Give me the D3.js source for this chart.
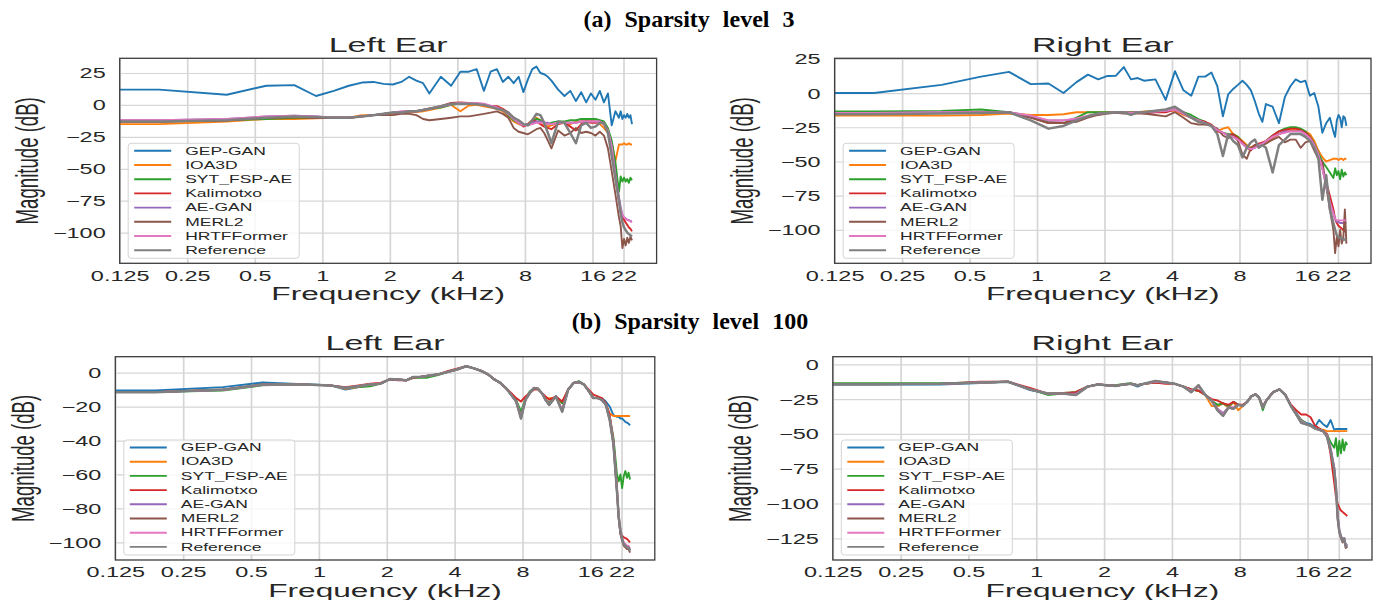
<!DOCTYPE html>
<html>
<head>
<meta charset="utf-8">
<script src="https://cdn.jsdelivr.net/npm/d3@7"></script>
<style>
    body { margin: 0; background: #fff; }
    svg text { font-family: "Liberation Sans", Arial, sans-serif; fill: #262626; }
    svg text.suptitle { font-family: "Liberation Serif", "Times New Roman", serif; font-weight: bold; fill: #000; }
</style>
</head>
<body>
<svg id="chart" width="1377" height="600"></svg>
<script>
"use strict";

// the source figure was widened after export, so its text is wider than tall
var STRETCH = 1.7;

var freqs = [0.125, 0.1875, 0.375, 0.5625, 0.75, 0.9375, 1.125, 1.3125, 1.5, 1.6875,
    1.875, 2.0625, 2.25, 2.4375, 2.625, 2.8125, 3.0, 3.375, 3.75, 4.125,
    4.5, 4.875, 5.25, 5.625, 6.0, 6.375, 6.75, 7.125, 7.5, 7.875,
    8.25, 8.625, 9.0, 9.375, 9.75, 10.125, 10.5, 11.25, 12.0, 12.75,
    13.5, 14.25, 15.0, 15.75, 16.5, 17.25, 18.0, 18.75, 19.5, 20.25,
    21.0, 21.375, 21.75, 22.125, 22.5, 22.875, 23.25, 23.625, 24.0];

var seriesNames = ["GEP-GAN", "IOA3D", "SYT_FSP-AE", "Kalimotxo", "AE-GAN", "MERL2", "HRTFFormer", "Reference"];
var seriesColors = ["#1f77b4", "#ff7f0e", "#2ca02c", "#d62728", "#9467bd", "#8c564b", "#e377c2", "#7f7f7f"];

var xTickValues = [0.125, 0.25, 0.5, 1, 2, 4, 8, 16, 22];
var xTickLabels = ["0.125", "0.25", "0.5", "1", "2", "4", "8", "16", "22"];
var yTicksA = [25, 0, -25, -50, -75, -100];
var yTicksBLeft = [0, -20, -40, -60, -80, -100];
var yTicksBRight = [0, -25, -50, -75, -100, -125];

// (a) sparsity level 3, left ear
var aLeftGep = [12, 12, 8, 15, 15.5, 7, 11, 15, 17.5, 18,
    16.5, 16, 18, 22, 19, 17, 9, 22, 15, 26,
    26, 28, 11, 26, 28, 18, 22, 17, 22, 10,
    20, 28, 30, 25, 24, 22, 19, 12, 7, 11,
    3, 10, 2, 9, 4, 11, 2, 9, -16, -5,
    -10, -5, -11, -8, -10, -7, -10, -8, -15];
var aLeftIoa = [-15, -15, -13, -11, -11, -10.5, -10, -10, -8, -8,
    -8, -7, -6, -6, -5.5, -5, -4, -2, 0, -5,
    -0.5, 0, -1, -2, -3, -5, -9, -13, -15, -16,
    -15, -12, -10, -12, -15, -17, -16, -14, -14, -15,
    -13, -13, -12, -12, -13, -15, -18, -22, -30, -44,
    -31, -31, -31, -30, -31, -31, -30, -31, -31];
var aLeftSyt = [-13, -13, -12, -11, -10, -10, -10, -10, -9, -8,
    -7, -6, -6, -5, -5, -4, -3, -2, 0, 1,
    1, 1, 0, -1, -2, -4, -8, -12, -14, -16,
    -15, -13, -11, -12, -14, -15, -14, -13, -13, -12,
    -12, -11, -11, -11, -11, -12, -13, -18, -28, -45,
    -68, -56, -60, -57, -60, -58, -61, -57, -59];
var aLeftKal = [-13, -13, -12, -10, -9.5, -10, -10, -10, -9, -8,
    -7, -6, -6, -5, -5, -4, -3, -1, 1.5, 2,
    1.5, 1, 0, -1, -1, -3, -6, -10, -14, -17,
    -15, -12, -13, -15, -17, -18, -19, -15, -14, -17,
    -20, -15, -13, -14, -14, -13, -15, -21, -35, -55,
    -75, -84, -88, -90, -92, -94, -96, -97, -99];
var aLeftAeg = [-12, -12, -11, -9, -8.5, -9, -10, -10, -9, -8,
    -7, -6, -5.5, -5, -5, -4, -3, -1.5, 0.5, 1.5,
    1.5, 1, 0.5, -1, -2, -4, -7, -11, -14, -16,
    -15, -14, -13, -13, -14, -14, -15, -14, -14, -14,
    -14, -13, -13, -13, -13, -13, -15, -20, -32, -55,
    -72, -80, -86, -88, -89, -90, -90, -91, -91];
var aLeftMerl = [-13, -13, -12, -10, -9, -10, -10, -10, -9, -8,
    -8, -8, -7, -7, -8, -11, -12, -11, -10, -9,
    -9, -8, -7, -6, -5, -7, -10, -18, -21, -22,
    -23, -21, -19, -18, -22, -28, -34, -20, -24, -22,
    -18, -22, -21, -22, -24, -21, -24, -34, -52, -70,
    -88, -95, -112, -105, -110, -104, -108, -103, -106];
var aLeftHrtf = [-12, -12, -11, -9, -8.5, -9, -10, -10, -9, -8,
    -7, -6, -5, -5, -5, -4, -3, -1, 0.5, 1.5,
    1.5, 1.5, 1, -0.5, -2, -4, -7, -11, -14, -16,
    -16, -15, -14, -14, -14, -15, -15, -14, -14, -14,
    -14, -13, -13, -13, -13, -13, -15, -20, -33, -56,
    -75, -82, -86, -88, -89, -90, -90.5, -91, -92];
var aLeftRef = [-13, -13, -12, -10, -9, -9.5, -10, -10, -9, -8,
    -7, -6, -6, -5, -5, -4, -3, -1, 1, 1,
    1, 0.5, 0, -1.5, -3, -4, -6, -10, -12, -15,
    -16, -12, -7, -8, -14, -22, -30, -13, -14, -22,
    -30, -16, -14, -18, -17, -14, -14, -22, -40, -58,
    -75, -85, -92, -96, -98, -100, -101, -102, -103];

// (a) sparsity level 3, right ear
var aRightGep = [0, 0, 6, 12, 15.5, 6.5, 7, 0, 8, 13.5,
    10, 12.5, 12.7, 19, 10, 11, 9, 10, -5, 16,
    2, -2, 12, 12, 15, 5, -17, -1, 3, 6,
    9, 6, 2, -6, -15, -21, -8, -10, -22, -3,
    5, 10, 8, 9, -2, 0, -10, -29, -22, -18,
    -28, -32, -20, -16, -18, -25, -17, -18, -24];
var aRightIoa = [-16.5, -16.5, -16.5, -16, -15, -16, -16, -15.5, -14, -14,
    -14, -14, -14, -14.5, -14, -14, -13.5, -13, -13, -13,
    -16, -18, -20, -22, -24, -28, -26, -25, -30, -32,
    -35, -38, -40, -38, -38, -37, -36, -33, -30, -28,
    -27, -27, -27, -28, -30, -35, -42, -47, -50, -49,
    -48, -48, -48, -49, -48, -48, -49, -48, -48];
var aRightSyt = [-13.5, -13.5, -13, -12, -14, -17, -21, -22, -18, -14,
    -14, -14, -14, -14, -14, -14, -14, -13, -13, -12,
    -14, -16, -19, -21, -24, -27, -29, -30, -30, -32,
    -36, -39, -41, -39, -38, -37, -35, -31, -28, -26,
    -25, -25, -26, -28, -32, -37, -44, -50, -54, -58,
    -62, -55, -60, -57, -63, -56, -61, -58, -60];
var aRightKal = [-15, -15, -14.5, -14, -14, -18, -22, -22, -20, -17,
    -15, -14.5, -14, -14, -14.5, -14, -15, -14, -14, -12,
    -15, -18, -20, -21, -23, -28, -29, -31, -30, -33,
    -36, -40, -42, -38, -37, -36, -35, -31, -28, -27,
    -26, -26, -27, -29, -32, -38, -46, -55, -65, -75,
    -85, -92, -95, -97, -98, -99, -100, -101, -102];
var aRightAeg = [-14.5, -14.5, -14, -14, -14, -17, -20, -20, -19, -17,
    -15, -14.5, -14, -14, -14.5, -14, -14, -13.5, -13, -12,
    -15, -18, -20, -22, -24, -27, -29, -31, -32, -34,
    -37, -40, -41, -40, -38, -37, -35, -32, -30, -28,
    -28, -28, -28, -30, -33, -38, -45, -55, -68, -80,
    -88, -92, -94, -94, -95, -95, -95, -95, -95];
var aRightMerl = [-15, -15, -14.5, -14, -14, -18, -22, -22, -21, -18,
    -16, -15, -14.5, -15, -15, -15, -15, -16, -17, -14,
    -18, -22, -23, -23, -24, -26, -31, -33, -31, -35,
    -45, -48, -40, -38, -39, -38, -37, -34, -32, -36,
    -34, -34, -40, -36, -35, -42, -48, -50, -68, -85,
    -100, -117, -105, -112, -100, -110, -106, -85, -110];
var aRightHrtf = [-14.5, -14.5, -14, -14, -14, -16.5, -20, -20, -18.5, -16.5,
    -15, -14.5, -14, -14, -14.5, -14, -14, -13.5, -13, -12,
    -15, -18, -20, -22, -24, -27, -29, -31, -32, -34,
    -37, -40, -41, -40, -38, -37, -35, -32, -30, -29,
    -28, -28, -28, -30, -33, -38, -45, -55, -68, -80,
    -88, -92, -93, -93, -93, -93, -93, -93, -93];
var aRightRef = [-15.5, -15.5, -15, -14.5, -14, -20, -26, -24, -20, -17,
    -15, -14.5, -14, -14, -16, -14, -14, -13, -12, -10,
    -14, -18, -21, -22, -24, -30, -46, -30, -35, -38,
    -47, -40, -36, -34, -40, -38, -40, -58, -38, -34,
    -30, -30, -30, -32, -35, -40, -48, -78, -60, -85,
    -95, -100, -104, -105, -106, -106, -107, -107, -108];

// (b) sparsity level 100, left ear
var bLeftGep = [-10.5, -10.5, -8.5, -5.8, -6.5, -7, -7.5, -10, -8.5, -7.5,
    -6.5, -4, -4, -4.5, -2.5, -2.5, -2, -1, 0.5, 2,
    3.8, 2.5, 1, -1, -4, -6, -9, -13, -17, -25,
    -16, -12, -9, -9.5, -12, -16, -18, -14, -18, -10,
    -6, -5.5, -7, -11, -15, -15, -15, -17, -20, -25,
    -26, -26, -27, -27, -28, -29, -29.5, -30, -31];
var bLeftIoa = [-11.5, -11.5, -10, -7.2, -7, -7.2, -7.5, -9.5, -8.5, -7.5,
    -6.5, -4, -4, -4.5, -2.5, -2.5, -2, -1, 0.5, 2,
    3.8, 2.5, 1, -1, -4, -6, -9, -13, -17, -25,
    -16, -12, -9, -9.5, -12, -15, -15, -15, -18, -10,
    -6, -5.5, -7, -11, -15, -15, -16, -19, -24, -25.5,
    -25.5, -25.5, -25.5, -25.5, -25.5, -25.5, -25.5, -25.5, -25.5];
var bLeftSyt = [-11.5, -11.5, -10.5, -7.5, -7, -7.2, -7.5, -9, -8.5, -8,
    -6.5, -4, -4.2, -4.5, -3, -3, -3, -1.5, 0.5, 2,
    3.8, 2.5, 1, -1, -4, -6, -9, -13, -16, -23,
    -15, -11, -9, -9.5, -12, -16, -18, -14, -18, -10,
    -6, -5, -7, -11, -15, -15, -16, -19, -26, -38,
    -60, -64, -60, -68, -61, -58, -62, -59, -63];
var bLeftKal = [-11.5, -11.5, -10, -7, -6.8, -7.2, -7.5, -8.5, -7.5, -6.5,
    -6, -4, -4.5, -4.5, -3, -2.5, -2, -1, 1, 2.5,
    3.8, 2.5, 1, -1, -4, -6, -9, -12, -15, -17,
    -14, -12, -10, -10, -12, -14, -16, -14, -17, -10,
    -6, -5.5, -7, -10, -13, -14, -15, -18, -25, -40,
    -68, -85, -95, -96, -97, -97.5, -98, -99, -100];
var bLeftAeg = [-11.5, -11.5, -10.2, -7.2, -6.9, -7.3, -7.6, -9, -8, -7,
    -6.5, -3.8, -4, -4.6, -2.6, -2.5, -2, -1, 0.5, 2,
    3.8, 2.5, 1, -1, -4, -6, -9, -13, -17, -26,
    -16, -12, -9, -9.5, -12, -16, -19, -14, -22, -10,
    -6, -5.5, -7, -11, -15, -15, -16, -19, -27, -42,
    -70, -86, -94, -98, -101, -102, -102, -103, -104];
var bLeftMerl = [-11.5, -11.5, -10, -7, -6.8, -7.2, -7.5, -9, -8, -7,
    -6.5, -3.8, -4, -4.5, -2.5, -2.5, -2, -1, 0.5, 2,
    3.8, 2.5, 1, -1, -4, -6, -9, -13, -17, -27,
    -16, -12, -9, -9.5, -12, -16, -19, -14, -23, -10,
    -6, -5.5, -7, -11, -15, -15, -16, -19, -28, -42,
    -71, -86, -95, -99, -102, -103, -104, -104, -106];
var bLeftHrtf = [-11.5, -11.5, -10.1, -7.1, -6.8, -7.2, -7.5, -9, -8, -7,
    -6.5, -3.8, -4, -4.5, -2.5, -2.5, -2, -1, 0.5, 2,
    3.8, 2.5, 1, -1, -4, -6, -9, -13, -17, -26,
    -16, -12, -9, -9.5, -12, -16, -19, -14, -22, -10,
    -6, -5.5, -7, -11, -15, -15, -16, -19, -27, -41,
    -69, -84, -92, -97, -100, -101, -102, -102, -104];
var bLeftRef = [-11.5, -11.5, -10, -7, -6.8, -7.2, -7.5, -9, -8, -7,
    -6.5, -3.8, -4, -4.5, -2.5, -2.5, -2, -1, 0.5, 2,
    3.8, 2.5, 1, -1, -4, -6, -9, -13, -17, -27,
    -16, -12, -9, -9.5, -12, -16, -19, -14, -23, -10,
    -6, -5.5, -7, -11, -15, -15, -16, -19, -28, -42,
    -70, -85, -93, -98, -101, -102, -103, -103, -105];

// (b) sparsity level 100, right ear
var bRightGep = [-14.5, -14.5, -14.5, -13.5, -12.5, -18.5, -21, -20.5, -20, -16,
    -14.5, -15, -15.5, -14.5, -14, -16, -14, -13, -13, -14,
    -16, -18, -19, -22, -26, -30, -28, -31, -27, -29,
    -30, -27, -23, -21.5, -24, -31, -26, -20, -18, -22,
    -30, -35, -40, -42, -43, -45, -40, -43, -45, -40,
    -47, -46.5, -46.5, -46.5, -46.5, -46.5, -46.5, -46.5, -46.5];
var bRightIoa = [-14, -14, -14, -13, -12.5, -18, -21, -20.5, -20, -16,
    -14.5, -15, -15.5, -14.5, -14, -15, -14, -13, -13, -14,
    -16, -18, -19, -22, -30, -30, -28, -31, -27, -33,
    -30, -27, -23, -21.5, -24, -31, -26, -20, -18, -22,
    -30, -36, -40, -43, -44, -46, -47, -47, -48, -48,
    -48, -48, -48, -48, -48, -48, -48, -48, -48];
var bRightSyt = [-13.6, -13.6, -13.5, -13, -12.5, -18, -22, -21, -20, -16,
    -14.5, -15, -15, -14, -13.5, -15, -14, -13, -13, -14,
    -16, -18, -19, -22, -26, -29, -28, -30, -27, -29,
    -30, -27, -23, -21.5, -24, -33, -26, -20, -18, -22,
    -30, -36, -40, -43, -44, -46, -47, -48, -50, -56,
    -60, -53, -66, -55, -64, -54, -62, -56, -58];
var bRightKal = [-14, -14, -14, -12.5, -12.5, -17, -21, -21, -20, -16,
    -14.5, -15, -15.5, -14.5, -14, -15, -14, -13, -14, -14,
    -16, -18, -19, -22, -25, -26, -28, -29, -27, -29,
    -29, -27, -23, -21.5, -24, -30, -26, -20, -18, -22,
    -29, -33, -36, -36, -38, -44, -46, -48, -50, -65,
    -85, -95, -100, -103, -105, -106, -107, -108, -109];
var bRightAeg = [-14.2, -14.2, -14, -13, -12.5, -18, -21, -21, -21, -16,
    -14.5, -15, -15.5, -14.5, -14, -15, -14, -12.5, -13, -14,
    -16, -19, -16, -22, -26, -32, -35, -31, -31, -29,
    -30, -27, -23, -21.5, -24, -31, -26, -20, -18, -22,
    -30, -36, -41, -43, -44, -46, -47, -48, -51, -60,
    -74, -87, -108, -119, -123, -126, -125, -130, -129];
var bRightMerl = [-14.3, -14.3, -14, -13, -12.5, -18, -21, -21, -22, -16,
    -14.5, -15, -15.5, -14.5, -14, -15, -14, -12, -13, -14,
    -16, -20, -15, -22, -26, -33, -37, -31, -32, -29,
    -30, -27, -23, -21.5, -24, -31, -26, -20, -18, -22,
    -30, -36, -42, -43, -44, -46, -47, -48, -52, -62,
    -76, -89, -111, -121, -125, -128, -126, -132, -131];
var bRightHrtf = [-14.2, -14.2, -14, -13, -12.5, -18, -21, -21, -21.5, -16,
    -14.5, -15, -15.5, -14.5, -14, -15, -14, -12.5, -13, -14,
    -16, -19, -16, -22, -26, -32, -36, -31, -31, -29,
    -30, -27, -23, -21.5, -24, -31, -26, -20, -18, -22,
    -30, -36, -41, -43, -44, -46, -47, -48, -51, -61,
    -75, -88, -109, -120, -124, -127, -125, -131, -130];
var bRightRef = [-14.3, -14.3, -14, -13, -12.5, -18, -21, -21, -22, -16,
    -14.5, -15, -15.5, -14.5, -14, -15, -14, -12, -13, -14,
    -16, -20, -15, -22, -26, -33, -37, -31, -32, -29,
    -30, -27, -23, -21.5, -24, -31, -26, -20, -18, -22,
    -30, -36, -42, -43, -44, -46, -47, -48, -52, -62,
    -75, -88, -110, -120, -124, -127, -125, -131, -130];

var svg = d3.select("#chart");

var panels = [
    { id: "al", title: "Left Ear", left: 119.7, right: 656.6, top: 58.3, bottom: 263.3,
      yDomain: [-124, 36.5], yTicks: yTicksA,
      series: [aLeftGep, aLeftIoa, aLeftSyt, aLeftKal, aLeftAeg, aLeftMerl, aLeftHrtf, aLeftRef] },
    { id: "ar", title: "Right Ear", left: 834.6, right: 1371, top: 58.3, bottom: 263.3,
      yDomain: [-124.4, 25.4], yTicks: yTicksA,
      series: [aRightGep, aRightIoa, aRightSyt, aRightKal, aRightAeg, aRightMerl, aRightHrtf, aRightRef] },
    { id: "bl", title: "Left Ear", left: 115.3, right: 654.8, top: 356.7, bottom: 560,
      yDomain: [-110.4, 9.4], yTicks: yTicksBLeft,
      series: [bLeftGep, bLeftIoa, bLeftSyt, bLeftKal, bLeftAeg, bLeftMerl, bLeftHrtf, bLeftRef] },
    { id: "br", title: "Right Ear", left: 832.8, right: 1372, top: 356.7, bottom: 560,
      yDomain: [-140.6, 5.5], yTicks: yTicksBRight,
      series: [bRightGep, bRightIoa, bRightSyt, bRightKal, bRightAeg, bRightMerl, bRightHrtf, bRightRef] }
];

var drawPanel = function (p) {
    var x = d3.scaleLog().domain([0.125, 30.9]).range([p.left, p.right]),
        y = d3.scaleLinear().domain(p.yDomain).range([p.bottom, p.top]),
        w = p.right - p.left,
        h = p.bottom - p.top,
        g = svg.append("g").attr("class", "panel-" + p.id);

    // grid + tick labels
    g.append("g")
        .attr("transform", "translate(0," + p.bottom + ")")
        .call(d3.axisBottom(x)
            .tickValues(xTickValues)
            .tickFormat(function (d, i) { return xTickLabels[i]; })
            .tickSize(-h))
        .call(function (a) {
            a.select(".domain").remove();
            a.selectAll("line").attr("stroke", "#d6d6d6").attr("stroke-width", 1.7);
            a.selectAll("text")
                .attr("y", 17.5)
                .attr("dy", null)
                .attr("font-size", 13.8)
                .attr("fill", "#262626")
                .attr("transform", "scale(" + STRETCH + ",1)");
        });

    g.append("g")
        .attr("transform", "translate(" + p.left + ",0)")
        .call(d3.axisLeft(y)
            .tickValues(p.yTicks)
            .tickSize(-w))
        .call(function (a) {
            a.select(".domain").remove();
            a.selectAll("line").attr("stroke", "#d6d6d6").attr("stroke-width", 1.2);
            a.selectAll("text")
                .attr("x", -14 / STRETCH)
                .attr("dy", "0.36em")
                .attr("font-size", 13.8)
                .attr("fill", "#262626")
                .attr("transform", "scale(" + STRETCH + ",1)");
        });

    g.append("clipPath")
        .attr("id", "clip-" + p.id)
        .append("rect")
        .attr("x", p.left)
        .attr("y", p.top)
        .attr("width", w)
        .attr("height", h);

    var line = d3.line()
        .x(function (d, i) { return x(freqs[i]); })
        .y(function (d) { return y(d); });

    g.append("g")
        .attr("clip-path", "url(#clip-" + p.id + ")")
        .selectAll("path")
        .data(p.series)
        .enter()
        .append("path")
        .attr("d", line)
        .attr("fill", "none")
        .attr("stroke", function (d, i) { return seriesColors[i]; })
        .attr("stroke-width", function (d, i) { return i === 7 ? 2.5 : 1.9; })
        .attr("stroke-linejoin", "round");

    // frame
    g.append("rect")
        .attr("x", p.left)
        .attr("y", p.top)
        .attr("width", w)
        .attr("height", h)
        .attr("fill", "none")
        .attr("stroke", "#3d3d3d")
        .attr("stroke-width", 1.3);

    // legend, lower left
    var lg = g.append("g")
        .attr("transform", "translate(" + (p.left + 8.5) + "," + (p.bottom - 5 - 115) + ")");

    lg.append("rect")
        .attr("width", 171)
        .attr("height", 115)
        .attr("rx", 3)
        .attr("fill", "#fff")
        .attr("fill-opacity", 0.8)
        .attr("stroke", "#d4d4d4")
        .attr("stroke-width", 1);

    var rows = lg.selectAll("g.row")
        .data(seriesNames)
        .enter()
        .append("g")
        .attr("class", "row")
        .attr("transform", function (d, i) { return "translate(0," + (7.5 + i * 14.2) + ")"; });

    rows.append("line")
        .attr("x1", 6)
        .attr("x2", 43)
        .attr("stroke", function (d, i) { return seriesColors[i]; })
        .attr("stroke-width", 1.9);

    rows.append("text")
        .text(function (d) { return d; })
        .attr("transform", "translate(57,0) scale(" + STRETCH + ",1)")
        .attr("dy", "0.36em")
        .attr("font-size", 10.3);

    // titles
    g.append("text")
        .text(p.title)
        .attr("text-anchor", "middle")
        .attr("font-size", 20)
        .attr("transform", "translate(" + (p.left + w / 2) + "," + (p.top - 6.5) + ") scale(" + STRETCH + ",1)");

    g.append("text")
        .text("Frequency (kHz)")
        .attr("text-anchor", "middle")
        .attr("font-size", 18.6)
        .attr("transform", "translate(" + (p.left + w / 2) + "," + (p.bottom + 37) + ") scale(" + STRETCH + ",1)");

    g.append("text")
        .text("Magnitude (dB)")
        .attr("text-anchor", "middle")
        .attr("dy", "0.36em")
        .attr("font-size", 18.6)
        .attr("transform", "translate(" + (p.left - 93) + "," + (p.top + h / 2) + ") rotate(-90) scale(1," + STRETCH + ")");
};

panels.forEach(drawPanel);

svg.append("text")
    .attr("class", "suptitle")
    .text("(a) Sparsity level 3")
    .attr("x", 689)
    .attr("y", 27)
    .attr("text-anchor", "middle")
    .attr("font-size", 24)
    .attr("word-spacing", 7);

svg.append("text")
    .attr("class", "suptitle")
    .text("(b) Sparsity level 100")
    .attr("x", 690)
    .attr("y", 329)
    .attr("text-anchor", "middle")
    .attr("font-size", 24)
    .attr("word-spacing", 7);
</script>
</body>
</html>
